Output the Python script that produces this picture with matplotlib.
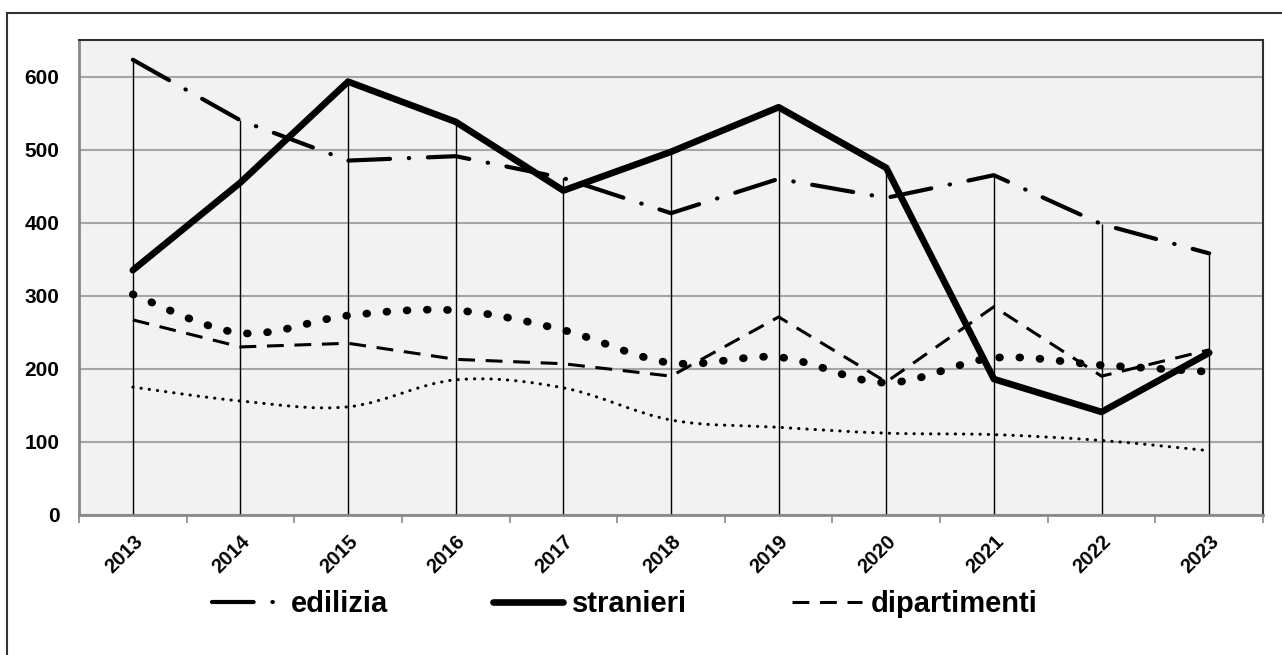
import numpy as np
import matplotlib
matplotlib.use("Agg")
from matplotlib import pyplot as plt
from matplotlib.path import Path
from matplotlib.patches import PathPatch, Rectangle

plt.rcParams["font.family"] = ["Liberation Sans", "DejaVu Sans"]
plt.rcParams["font.weight"] = "bold"

years = ["2013", "2014", "2015", "2016", "2017", "2018",
         "2019", "2020", "2021", "2022", "2023"]
edilizia = [623, 540, 485, 491, 461, 413, 460, 434, 465, 398, 358]
stranieri = [335, 455, 593, 538, 444, 497, 558, 475, 186, 141, 222]
dipartimenti = [267, 230, 235, 213, 207, 190, 271, 182, 285, 190, 226]
serie_punti = [302, 249, 273, 280, 253, 208, 216, 181, 215, 205, 196]
serie_puntini = [175, 156, 148, 185, 174, 130, 120, 112, 110, 102, 88]


def smooth_path(xs, ys):
    # bezier segments like the smoothed lines of a spreadsheet chart
    pts = np.column_stack([xs, ys]).astype(float)
    n = len(pts)
    verts = [pts[0]]
    codes = [Path.MOVETO]
    for i in range(n - 1):
        p0 = pts[max(i - 1, 0)]
        p1 = pts[i]
        p2 = pts[i + 1]
        p3 = pts[min(i + 2, n - 1)]
        c1 = p1 + (p2 - p0) / 6.0
        c2 = p2 - (p3 - p1) / 6.0
        verts += [c1, c2, p2]
        codes += [Path.CURVE4] * 3
    return Path(verts, codes)


fig = plt.figure(figsize=(12.82, 6.55), dpi=100)
ax = fig.add_axes([79 / 1282, 140 / 655, 1184 / 1282, 475 / 655])
ax.set_facecolor("#f2f2f2")

x = np.arange(len(years))

ax.set_xlim(-0.5, len(years) - 0.5)
ax.set_ylim(0, 650)
ax.set_yticks(range(0, 700, 100))
ax.yaxis.grid(True, color="#a6a6a6", linewidth=1.5, zorder=0)
ax.set_axisbelow(True)

# drop lines from the highest value
tops = np.max(np.vstack([edilizia, stranieri, dipartimenti,
                         serie_punti, serie_puntini]), axis=0)
ax.vlines(x, 0, tops, color="black", linewidth=1.0, zorder=2)

p_small = PathPatch(smooth_path(x, serie_puntini), fill=False,
                    edgecolor="black", linewidth=2.2,
                    linestyle=(0, (0.1, 2.6)), capstyle="round", zorder=3)
ax.add_patch(p_small)
p_big = PathPatch(smooth_path(x, serie_punti), fill=False,
                  edgecolor="black", linewidth=5.6,
                  linestyle=(0, (0.1, 2.5)), capstyle="round", zorder=3)
ax.add_patch(p_big)

l_ed, = ax.plot(x, edilizia, color="black", linewidth=3.0,
                linestyle=(0, (10, 4.5, 0.1, 4.5)),
                dash_capstyle="round", label="edilizia", zorder=4)
l_st, = ax.plot(x, stranieri, color="black", linewidth=4.8,
                solid_capstyle="round", label="stranieri", zorder=5)
l_di, = ax.plot(x, dipartimenti, color="black", linewidth=2.2,
                linestyle=(0, (5.5, 3.5)), label="dipartimenti", zorder=4)

ax.set_xticks(x)
ax.set_xticklabels(years, rotation=45, ha="right", rotation_mode="anchor",
                   fontsize=14.5, fontweight="bold")
ax.set_xticks(np.arange(-0.5, len(years), 1.0), minor=True)
ax.tick_params(axis="x", which="major", length=0, pad=12)
ax.tick_params(axis="x", which="minor", length=6, color="#898989", width=1.2)
ax.tick_params(axis="y", length=0, pad=14, labelsize=15)
for lab in ax.get_yticklabels():
    lab.set_fontweight("bold")

for side in ["left", "bottom"]:
    ax.spines[side].set_color("#898989")
    ax.spines[side].set_linewidth(2)
for side in ["top", "right"]:
    ax.spines[side].set_color("#303030")
    ax.spines[side].set_linewidth(1.5)

fig.legend(handles=[l_ed, l_st, l_di], loc="center",
           bbox_to_anchor=(625 / 1282, 1 - 604 / 655), ncol=3,
           frameon=False, prop={"size": 21, "weight": "bold"},
           handlelength=2.4, handletextpad=0.3, columnspacing=3.6)

# outer border of the chart box
fig.patches.append(Rectangle((7 / 1282, -0.1), 1.2, 1.1 - 13 / 655,
                             transform=fig.transFigure, fill=False,
                             edgecolor="#333333", linewidth=1.5))

fig.savefig("out.png", dpi=100)
